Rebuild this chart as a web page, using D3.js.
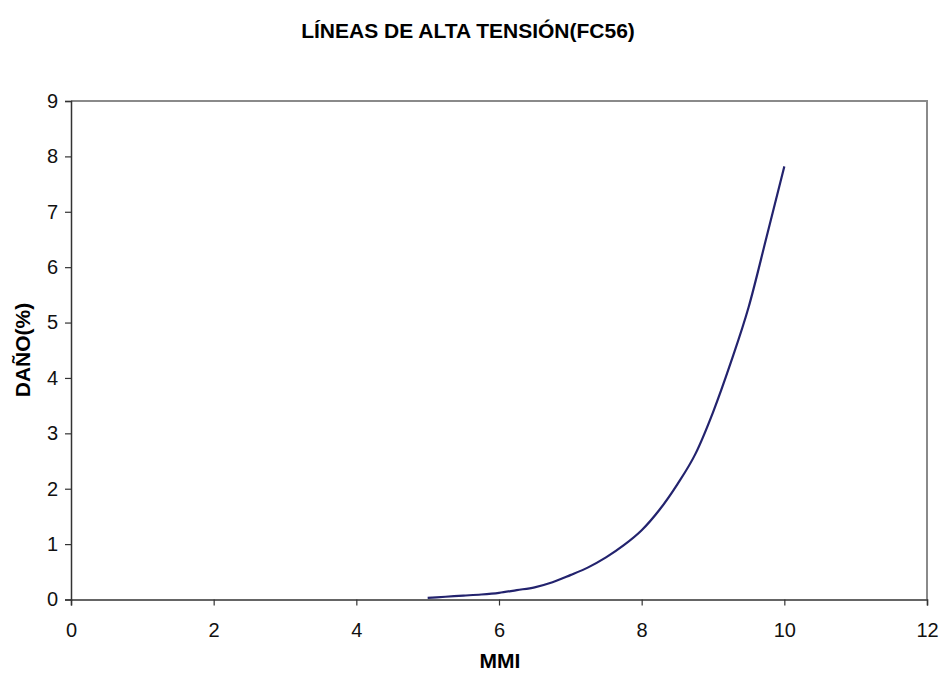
<!DOCTYPE html>
<html>
<head>
<meta charset="utf-8">
<script src="https://cdn.jsdelivr.net/npm/d3@7"></script>
<style>
  body { margin: 0; background: #fff; }
  svg { display: block; font-family: "Liberation Sans", Arial, sans-serif; }
</style>
</head>
<body>
<svg id="chart" width="939" height="679"></svg>
<script>
// Damage curve for high-voltage lines (FC56) versus MMI intensity
const mmi = [5, 5.25, 5.5, 5.75, 6, 6.25, 6.5, 6.75, 7, 7.25, 7.5, 7.75, 8, 8.25, 8.5, 8.75, 9, 9.25, 9.5, 9.75, 10];
const dano = [0.03, 0.05, 0.07, 0.09, 0.12, 0.17, 0.22, 0.31, 0.44, 0.58, 0.76, 0.98, 1.25, 1.62, 2.08, 2.62, 3.38, 4.28, 5.28, 6.54, 7.82];
const xTicks = [0, 2, 4, 6, 8, 10, 12];
const yTicks = [0, 1, 2, 3, 4, 5, 6, 7, 8, 9];

const svg = d3.select("#chart");
const plotL = 71, plotR = 927, plotT = 101, plotB = 599.5;

const x = d3.scaleLinear().domain([0, 12]).range([plotL, plotR]);
const y = d3.scaleLinear().domain([0, 9]).range([plotB, plotT]);

// Title
svg.append("text")
  .attr("x", 468).attr("y", 38)
  .attr("text-anchor", "middle")
  .style("font-weight", "bold").style("font-size", "21px")
  .text("LÍNEAS DE ALTA TENSIÓN(FC56)");

// Plot frame: top and right edges in grey
svg.append("path")
  .attr("d", `M${plotL},${plotT}H${plotR}V${plotB}`)
  .attr("fill", "none").attr("stroke", "#8a8a8a").attr("stroke-width", 2);

// Axes
const xAxis = svg.append("g")
  .attr("transform", `translate(0,${plotB})`)
  .call(d3.axisBottom(x).tickValues(xTicks).tickSize(6).tickPadding(17).tickFormat(d3.format("d")));
const yAxis = svg.append("g")
  .attr("transform", `translate(${plotL},0)`)
  .call(d3.axisLeft(y).tickValues(yTicks).tickSize(6).tickPadding(7).tickFormat(d3.format("d")));

[xAxis, yAxis].forEach(g => {
  g.attr("font-size", null).attr("font-family", null);
  g.select(".domain").attr("stroke", "#333").attr("stroke-width", 1.5);
  g.selectAll(".tick line").attr("stroke", "#333").attr("stroke-width", 1.2);
  g.selectAll(".tick text").style("font-size", "20px").attr("fill", "#111");
});

// Axis titles
svg.append("text")
  .attr("x", 500).attr("y", 668)
  .attr("text-anchor", "middle")
  .style("font-weight", "bold").style("font-size", "21px")
  .text("MMI");

svg.append("text")
  .attr("transform", `translate(30,350) rotate(-90)`)
  .attr("text-anchor", "middle")
  .style("font-weight", "bold").style("font-size", "21px")
  .text("DAÑO(%)");

// Damage curve
const line = d3.line()
  .x((d, i) => x(mmi[i]))
  .y(d => y(d))
  .curve(d3.curveMonotoneX);

svg.append("path")
  .datum(dano)
  .attr("d", line)
  .attr("fill", "none")
  .attr("stroke", "#23236e")
  .attr("stroke-width", 2.2);
</script>
</body>
</html>
